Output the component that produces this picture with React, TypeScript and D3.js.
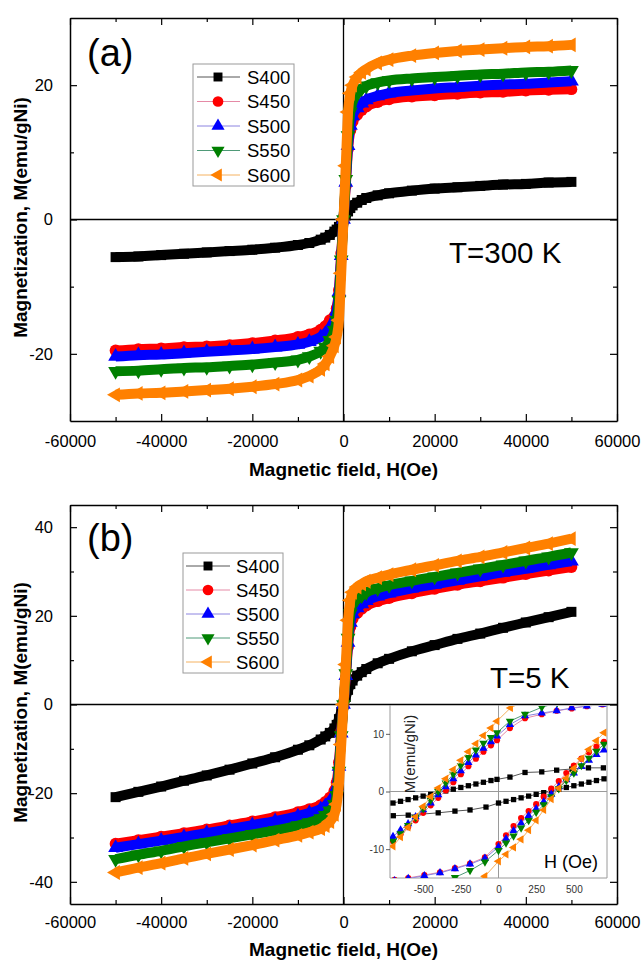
import React, { useLayoutEffect, useRef } from 'react';
import * as d3 from 'd3';

// applied field H (Oe), shared by all main-panel series
const fieldH = [
  -50000, -45000, -40000, -35000, -30000, -25000, -20000, -15000, -10000, -7500, -5000, -4000,
  -3000, -2000, -1500, -1000, -500, 0, 500, 1000, 1500, 2000, 3000, 4000, 5000, 7500, 10000,
  15000, 20000, 25000, 30000, 35000, 40000, 45000, 50000,
];

// (a) T = 300 K, M (emu/gNi)
const m300S400 = [
  -5.6, -5.5, -5.3, -5.1, -4.9, -4.7, -4.5, -4.2, -3.8, -3.5, -3.0, -2.7, -2.3, -1.8, -1.5, -1.1,
  -0.6, 0, 0.6, 1.2, 1.7, 2.1, 2.5, 2.9, 3.2, 3.6, 3.9, 4.3, 4.6, 4.8, 5.0, 5.2, 5.3, 5.5, 5.6,
];
const m300S450 = [
  -19.5, -19.3, -19.2, -19.0, -18.9, -18.7, -18.4, -18.0, -17.5, -17.1, -16.4, -15.9, -15.0, -14.4,
  -13.2, -10.5, -5.0, 0, 5.0, 10.5, 13.3, 14.6, 15.6, 16.3, 16.8, 17.5, 17.9, 18.3, 18.5, 18.7, 18.9,
  19.0, 19.2, 19.3, 19.4,
];
const m300S500 = [
  -20.4, -20.2, -20.1, -19.9, -19.7, -19.5, -19.3, -19.0, -18.6, -18.2, -17.5, -17.0, -16.2, -14.9,
  -13.6, -10.8, -5.4, 0, 5.5, 11.0, 14.0, 15.4, 16.6, 17.3, 17.8, 18.4, 18.8, 19.2, 19.5, 19.7, 19.9,
  20.1, 20.2, 20.4, 20.6,
];
const m300S550 = [
  -22.6, -22.5, -22.3, -22.1, -22.0, -21.8, -21.6, -21.3, -20.9, -20.4, -19.6, -19.0, -18.0, -16.5,
  -15.0, -12.0, -6.0, 0, 6.0, 12.5, 16.0, 17.5, 18.8, 19.5, 19.9, 20.4, 20.7, 21.0, 21.2, 21.4, 21.6,
  21.7, 21.9, 22.0, 22.2,
];
const m300S600 = [
  -26.1, -25.9, -25.8, -25.6, -25.4, -25.2, -24.9, -24.5, -23.9, -23.3, -22.3, -21.5, -20.4, -18.8,
  -17.5, -15.0, -8.0, 0, 8.0, 16.0, 18.8, 20.0, 21.2, 21.9, 22.4, 23.3, 23.8, 24.4, 24.8, 25.1, 25.3,
  25.5, 25.7, 25.8, 26.0,
];

// (b) T = 5 K
const m5S400 = [
  -20.9, -19.7, -18.5, -17.2, -16.0, -14.7, -13.3, -11.9, -10.2, -9.2, -7.9, -7.2, -6.4, -5.4, -4.6,
  -3.3, -1.7, 0, 1.7, 3.3, 4.6, 5.4, 6.5, 7.3, 8.0, 9.3, 10.3, 12.0, 13.4, 14.8, 16.0, 17.3, 18.5,
  19.7, 20.9,
];
const m5S450 = [
  -31.4, -30.6, -29.8, -29.0, -28.2, -27.3, -26.4, -25.4, -24.3, -23.6, -22.7, -22.0, -21.0, -19.5,
  -17.6, -13.0, -6.0, 0, 6.0, 13.0, 17.5, 19.3, 20.6, 21.6, 22.3, 23.3, 24.0, 25.1, 26.1, 27.0, 27.8,
  28.6, 29.4, 30.2, 31.0,
];
const m5S500 = [
  -32.3, -31.5, -30.7, -29.9, -29.0, -28.1, -27.2, -26.3, -25.2, -24.5, -23.6, -22.9, -21.9, -20.5,
  -18.6, -14.0, -6.5, 0, 6.5, 14.0, 18.5, 20.4, 21.8, 22.7, 23.4, 24.4, 25.1, 26.2, 27.1, 28.0, 28.9,
  29.8, 30.6, 31.5, 32.3,
];
const m5S550 = [
  -34.9, -33.9, -33.0, -32.0, -31.1, -30.2, -29.3, -28.4, -27.3, -26.6, -25.7, -25.0, -24.0, -22.5,
  -20.5, -15.0, -7.0, 0, 7.0, 15.0, 20.5, 22.6, 23.8, 24.6, 25.3, 26.2, 26.9, 27.9, 28.8, 29.7, 30.6,
  31.5, 32.4, 33.3, 34.3,
];
const m5S600 = [
  -37.9, -36.8, -35.8, -34.7, -33.7, -32.7, -31.7, -30.6, -29.5, -28.8, -28.0, -27.3, -26.4, -24.8,
  -22.5, -18.0, -9.0, 0, 9.0, 19.0, 23.5, 25.3, 26.5, 27.2, 27.8, 28.6, 29.3, 30.4, 31.4, 32.4, 33.3,
  34.3, 35.3, 36.3, 37.4,
];

// inset: low-field loop at 5 K, dense parts of both branches
const insetDownH = [-700, -650, -600, -550, -500, -450, -400, -350, -300, -250, -200, -150, -100, -50, -10];
const insetUpH = [0, 50, 100, 150, 200, 250, 300, 350, 400, 450, 500, 550, 600, 650, 700];

const downS400 = [-2.0, -1.7, -1.4, -1.1, -0.8, -0.5, -0.2, 0.1, 0.4, 0.7, 1.0, 1.3, 1.6, 1.9, 2.1];
const downS450 = [-8.6, -7.4, -6.2, -5.0, -3.7, -2.4, -1.1, 0.2, 1.6, 3.0, 4.4, 5.7, 6.9, 8.0, 8.9];
const downS500 = [-7.8, -6.7, -5.6, -4.4, -3.2, -2.0, -0.6, 0.8, 2.2, 3.6, 5.0, 6.3, 7.5, 8.6, 9.6];
const downS550 = [-8.6, -7.3, -5.9, -4.5, -3.0, -1.5, 0.0, 1.5, 3.0, 4.5, 5.9, 7.2, 8.4, 9.4, 10.2];
const downS600 = [-9.5, -7.9, -6.2, -4.4, -2.6, -0.9, 0.6, 2.2, 3.8, 5.4, 6.9, 8.3, 9.7, 11.0, 12.2];

const upS400 = [-2.0, -1.7, -1.4, -1.1, -0.8, -0.5, -0.2, 0.1, 0.4, 0.7, 1.0, 1.3, 1.6, 1.9, 2.2];
const upS450 = [-9.1, -7.6, -6.0, -4.6, -3.4, -2.2, -0.9, 0.5, 1.8, 3.2, 4.5, 5.7, 6.8, 7.8, 8.6];
const upS500 = [-9.6, -8.2, -6.8, -5.5, -4.2, -3.0, -1.8, -0.5, 0.8, 2.0, 3.2, 4.3, 5.4, 6.4, 7.2];
const upS550 = [-10.2, -8.9, -7.7, -6.3, -5.0, -3.6, -2.3, -0.9, 0.5, 1.9, 3.2, 4.5, 5.8, 7.0, 8.2];
const upS600 = [-12.1, -10.9, -9.7, -8.3, -6.7, -5.0, -3.2, -1.3, 0.6, 2.3, 4.0, 5.7, 7.3, 8.8, 10.2];

// inset: sparse tails (descending branch at H>0, ascending branch at H<0)
const downTailH = [
  [76, 176, 287, 386, 486, 597, 696],
  [76, 176, 287, 386, 486, 586, 690],
  [76, 176, 287, 386, 486, 586, 690],
  [76, 176, 287, 390],
  [80, 180],
];
const downTailM = [
  [2.5, 3.3, 3.4, 3.7, 3.9, 4.1, 4.1],
  [11.0, 12.7, 13.4, 14.0, 14.4, 14.8, 15.1],
  [11.6, 13.1, 13.6, 14.0, 14.5, 14.8, 15.1],
  [12.2, 13.4, 14.6, 15.4],
  [14.5, 15.8],
];
const upTailH = [
  [-698, -599, -400, -289, -189, -83],
  [-690, -599, -492, -388, -289, -189, -90],
  [-690, -599, -492, -388, -289, -189, -90],
  [-390, -289, -189, -90],
  [-190, -90],
];
const upTailM = [
  [-4.2, -4.1, -3.7, -3.4, -3.2, -2.7],
  [-15.3, -15.0, -14.5, -14.0, -13.3, -12.5, -11.4],
  [-15.5, -15.1, -14.6, -14.1, -13.4, -12.6, -11.6],
  [-15.6, -14.9, -13.7, -12.2],
  [-16.0, -14.7],
];

const seriesNames = ['S400', 'S450', 'S500', 'S550', 'S600'];
const xTicks = [-60000, -40000, -20000, 0, 20000, 40000, 60000];
const xMinorTicks = [-50000, -30000, -10000, 10000, 30000, 50000];
const insetXTicks = [-500, -250, 0, 250, 500];
const insetYTicks = [-10, 0, 10];

const seriesColors = ['#000000', '#ff0000', '#0000ff', '#008000', '#ff8000'];
const thinColors = ['#555555', '#e58aa6', '#8c84e0', '#4f9a78', '#f5b260'];
const symbolTypes = [d3.symbolSquare, d3.symbolCircle, d3.symbolTriangle, d3.symbolTriangle, d3.symbolTriangle];
const symbolRotation = [0, 0, 0, 180, -90];
const mainSymbolSize = [100, 110, 95, 95, 95];
const legendSymbolSize = [80, 90, 75, 75, 75];
const insetSymbolSize = [28, 30, 30, 30, 30];
const FONT = "'Liberation Sans', Arial, Helvetica, sans-serif";

const panelA = {
  left: 70, right: 617, top: 18, bottom: 421,
  yDomain: [-30, 30], yMajor: [-20, 0, 20], yMinor: [-10, 10],
  xPad: 14, series: [m300S400, m300S450, m300S500, m300S550, m300S600],
  titleY: 476, label: '(a)', labelY: 66, temp: 'T=300 K', tempX: 449, tempY: 263,
  legend: { x: 193, y: 64, w: 101, h: 122, rowY: 77, step: 24.5, l1: 197, l2: 240, mx: 218, tx: 247 },
};
const panelB = {
  left: 70, right: 617, top: 505, bottom: 904,
  yDomain: [-45, 45], yMajor: [-40, -20, 0, 20, 40], yMinor: [-30, -10, 10, 30],
  xPad: 12, series: [m5S400, m5S450, m5S500, m5S550, m5S600],
  titleY: 956, label: '(b)', labelY: 551, temp: 'T=5 K', tempX: 490, tempY: 688,
  legend: { x: 183, y: 553, w: 100, h: 120, rowY: 566, step: 24, l1: 186, l2: 230, mx: 208, tx: 236 },
};

const styleAxis = (g: any, fontSize: number, color = '#000', width = 1.5) => {
  g.selectAll('text').attr('font-size', fontSize).attr('font-family', FONT).attr('fill', color);
  g.selectAll('.tick line').attr('stroke', color).attr('stroke-width', 1.2);
  g.select('.domain').attr('stroke', color).attr('stroke-width', width);
};

const drawPanel = (svg: any, p: any) => {
  const x = d3.scaleLinear().domain([-60000, 60000]).range([p.left, p.right]);
  const y = d3.scaleLinear().domain(p.yDomain).range([p.bottom, p.top]);
  const g = svg.append('g').attr('font-family', FONT);

  // zero lines
  g.append('line').attr('x1', p.left).attr('x2', p.right).attr('y1', y(0)).attr('y2', y(0))
    .attr('stroke', '#000').attr('stroke-width', 1.3);
  g.append('line').attr('x1', x(0)).attr('x2', x(0)).attr('y1', p.top).attr('y2', p.bottom)
    .attr('stroke', '#000').attr('stroke-width', 1.3);

  // M-H curves, drawn as thick bands of packed markers
  const line = d3.line<number[]>().x((d) => x(d[0])).y((d) => y(d[1])).curve(d3.curveMonotoneX);
  p.series.forEach((vals: number[], i: number) => {
    const pts = fieldH.map((h, k) => [h, vals[k]]);
    g.append('path').attr('d', line(pts)).attr('fill', 'none').attr('stroke', seriesColors[i])
      .attr('stroke-width', 10).attr('stroke-linejoin', 'round');
    g.append('g').selectAll('path').data(pts).join('path')
      .attr('d', d3.symbol().type(symbolTypes[i]).size(mainSymbolSize[i])())
      .attr('transform', (d: number[]) => `translate(${x(d[0])},${y(d[1])}) rotate(${symbolRotation[i]})`)
      .attr('fill', seriesColors[i]);
  });

  // axes, ticks inward on all four sides
  const noLabel = () => '';
  const bottom = g.append('g').attr('transform', `translate(0,${p.bottom})`)
    .call(d3.axisBottom(x).tickValues(xTicks).tickSize(-7).tickSizeOuter(0).tickPadding(p.xPad)
      .tickFormat((d: any) => String(d)));
  styleAxis(bottom, 16.5);
  g.append('g').attr('transform', `translate(0,${p.bottom})`)
    .call(d3.axisBottom(x).tickValues(xMinorTicks).tickSize(-4).tickFormat(noLabel))
    .call((a: any) => { a.select('.domain').remove(); styleAxis(a, 10); });
  const top = g.append('g').attr('transform', `translate(0,${p.top})`)
    .call(d3.axisTop(x).tickValues(xTicks).tickSize(-7).tickSizeOuter(0).tickFormat(noLabel));
  styleAxis(top, 10);
  g.append('g').attr('transform', `translate(0,${p.top})`)
    .call(d3.axisTop(x).tickValues(xMinorTicks).tickSize(-4).tickFormat(noLabel))
    .call((a: any) => { a.select('.domain').remove(); styleAxis(a, 10); });

  const left = g.append('g').attr('transform', `translate(${p.left},0)`)
    .call(d3.axisLeft(y).tickValues(p.yMajor).tickSize(-7).tickSizeOuter(0).tickPadding(17)
      .tickFormat((d: any) => String(d)));
  styleAxis(left, 16.5);
  g.append('g').attr('transform', `translate(${p.left},0)`)
    .call(d3.axisLeft(y).tickValues(p.yMinor).tickSize(-4).tickFormat(noLabel))
    .call((a: any) => { a.select('.domain').remove(); styleAxis(a, 10); });
  const right = g.append('g').attr('transform', `translate(${p.right},0)`)
    .call(d3.axisRight(y).tickValues(p.yMajor).tickSize(-7).tickSizeOuter(0).tickFormat(noLabel));
  styleAxis(right, 10);
  g.append('g').attr('transform', `translate(${p.right},0)`)
    .call(d3.axisRight(y).tickValues(p.yMinor).tickSize(-4).tickFormat(noLabel))
    .call((a: any) => { a.select('.domain').remove(); styleAxis(a, 10); });

  // titles
  g.append('text').attr('x', (p.left + p.right) / 2).attr('y', p.titleY).attr('text-anchor', 'middle')
    .attr('font-size', 19).attr('font-weight', 'bold').text('Magnetic field, H(Oe)');
  g.append('text').attr('transform', `translate(27,${(p.top + p.bottom) / 2 - 2}) rotate(-90)`)
    .attr('text-anchor', 'middle').attr('font-size', 19).attr('font-weight', 'bold')
    .text('Magnetization, M(emu/gNi)');
  g.append('text').attr('x', 87).attr('y', p.labelY).attr('font-size', 38).text(p.label);
  g.append('text').attr('x', p.tempX).attr('y', p.tempY).attr('font-size', 29.5).text(p.temp);

  // legend
  const lg = p.legend;
  const leg = g.append('g');
  leg.append('rect').attr('x', lg.x).attr('y', lg.y).attr('width', lg.w).attr('height', lg.h)
    .attr('fill', '#fff').attr('stroke', '#9a9a9a').attr('stroke-width', 1);
  seriesNames.forEach((name, i) => {
    const ly = lg.rowY + i * lg.step;
    leg.append('line').attr('x1', lg.l1).attr('x2', lg.l2).attr('y1', ly).attr('y2', ly)
      .attr('stroke', thinColors[i]).attr('stroke-width', 1);
    leg.append('path').attr('d', d3.symbol().type(symbolTypes[i]).size(legendSymbolSize[i])())
      .attr('transform', `translate(${lg.mx},${ly}) rotate(${symbolRotation[i]})`)
      .attr('fill', seriesColors[i]);
    leg.append('text').attr('x', lg.tx).attr('y', ly).attr('dy', '0.36em').attr('font-size', 18.5)
      .text(name);
  });
};

const drawInset = (svg: any) => {
  const box = { left: 390, right: 607, top: 705, bottom: 878 };
  const x = d3.scaleLinear().domain([-720, 720]).range([box.left, box.right]);
  const y = d3.scaleLinear().domain([-15, 15]).range([box.bottom, box.top]);
  const g = svg.append('g').attr('font-family', FONT);

  g.append('rect').attr('x', box.left).attr('y', box.top + 1).attr('width', box.right - box.left)
    .attr('height', box.bottom - box.top - 1).attr('fill', '#fff');
  g.append('clipPath').attr('id', 'insetClip').append('rect')
    .attr('x', box.left).attr('y', box.top + 1).attr('width', box.right - box.left)
    .attr('height', box.bottom - box.top - 1);

  // frame (top edge is the main zero line) and zero lines
  const gray = '#9a9a9a';
  g.append('path')
    .attr('d', `M${box.left},${box.top}V${box.bottom}H${box.right}V${box.top}`)
    .attr('fill', 'none').attr('stroke', gray).attr('stroke-width', 1);
  g.append('line').attr('x1', box.left).attr('x2', box.right).attr('y1', y(0)).attr('y2', y(0))
    .attr('stroke', gray).attr('stroke-width', 1);
  g.append('line').attr('x1', x(0)).attr('x2', x(0)).attr('y1', box.top).attr('y2', box.bottom)
    .attr('stroke', gray).attr('stroke-width', 1);

  const down = [downS400, downS450, downS500, downS550, downS600];
  const up = [upS400, upS450, upS500, upS550, upS600];
  const line = d3.line<number[]>().x((d) => x(d[0])).y((d) => y(d[1]));
  const plot = g.append('g').attr('clip-path', 'url(#insetClip)');
  seriesNames.forEach((_, i) => {
    const branches = [
      insetDownH.map((h, k) => [h, down[i][k]]).concat(downTailH[i].map((h, k) => [h, downTailM[i][k]])),
      upTailH[i].map((h, k) => [h, upTailM[i][k]]).concat(insetUpH.map((h, k) => [h, up[i][k]])),
    ];
    branches.forEach((pts) => {
      plot.append('path').attr('d', line(pts)).attr('fill', 'none').attr('stroke', thinColors[i])
        .attr('stroke-width', 1);
      plot.append('g').selectAll('path').data(pts).join('path')
        .attr('d', d3.symbol().type(symbolTypes[i]).size(insetSymbolSize[i])())
        .attr('transform', (d: number[]) => `translate(${x(d[0])},${y(d[1])}) rotate(${symbolRotation[i]})`)
        .attr('fill', seriesColors[i]);
    });
  });

  const ax = g.append('g').attr('transform', `translate(0,${box.bottom})`)
    .call(d3.axisBottom(x).tickValues(insetXTicks).tickSize(0).tickPadding(8)
      .tickFormat((d: any) => String(d)));
  ax.select('.domain').remove();
  styleAxis(ax, 10, '#333');
  const ay = g.append('g').attr('transform', `translate(${box.left},0)`)
    .call(d3.axisLeft(y).tickValues(insetYTicks).tickSize(4).tickPadding(2)
      .tickFormat((d: any) => String(d)));
  ay.select('.domain').remove();
  styleAxis(ay, 10, '#333');
  ay.selectAll('.tick line').attr('stroke-width', 0.8);

  g.append('text').attr('transform', `translate(415,${y(6.5)}) rotate(-90)`).attr('text-anchor', 'middle')
    .attr('font-size', 15).attr('fill', '#222').text('M(emu/gNi)');
  g.append('text').attr('x', 544).attr('y', 868).attr('font-size', 18).text('H (Oe)');
};

const App = () => {
  const chartRef = useRef<SVGSVGElement>(null);

  useLayoutEffect(() => {
    const svg = d3.select(chartRef.current);
    svg.selectAll('*').remove();
    svg.append('rect').attr('width', 643).attr('height', 961).attr('fill', '#fff');
    drawPanel(svg, panelA);
    drawPanel(svg, panelB);
    drawInset(svg);
  }, []);

  return (
    <svg
      ref={chartRef}
      width={643}
      height={961}
      style={{ position: 'absolute', left: 0, top: 0, display: 'block' }}
    />
  );
};

export default App;
